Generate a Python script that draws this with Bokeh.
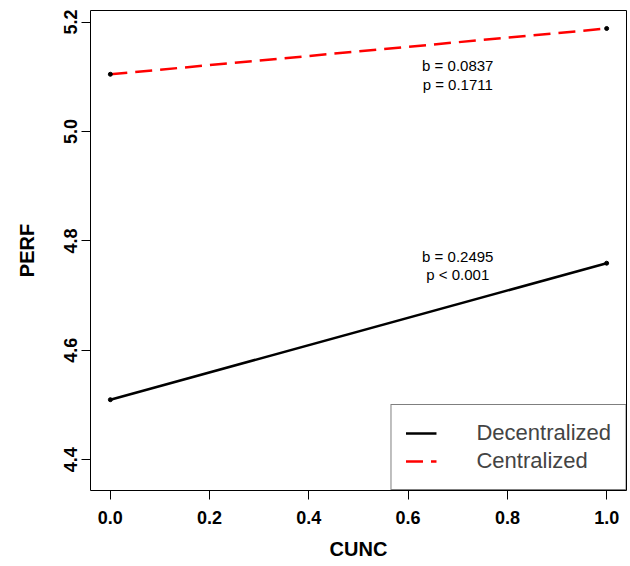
from bokeh.plotting import figure
from bokeh.models import Range1d, FixedTicker, Legend, LegendItem, ColumnDataSource
from bokeh.core.properties import value
from bokeh.embed import file_html
from bokeh.resources import INLINE

# ---- data ----
cunc = [0.0, 1.0]
decentralized = [4.5097, 4.7592]
centralized = [5.1046, 5.1883]

x_ticks = [0.0, 0.2, 0.4, 0.6, 0.8, 1.0]
x_tick_labels = ["0.0", "0.2", "0.4", "0.6", "0.8", "1.0"]
y_ticks = [4.4, 4.6, 4.8, 5.0, 5.2]
y_tick_labels = ["4.4", "4.6", "4.8", "5.0", "5.2"]

ann_x = [0.70, 0.70, 0.70, 0.70]
ann_y = [5.121, 5.086, 4.772, 4.738]
ann_text = ["b = 0.0837", "p = 0.1711", "b = 0.2495", "p < 0.001"]

FONT = "Liberation Sans"

p = figure(width=630, height=566, output_backend="svg", toolbar_location=None,
           x_range=Range1d(-0.04, 1.04), y_range=Range1d(4.3437, 5.2212),
           min_border_left=90, min_border_right=4, min_border_top=10, min_border_bottom=76)
p.background_fill_color = "white"
p.border_fill_color = "white"
p.outline_line_color = "black"
p.outline_line_width = 1
p.outline_line_alpha = 1.0
p.grid.visible = False

# lines
r_dec = p.line(cunc, decentralized, line_color="black", line_width=2.5)
r_cen = p.line(cunc, centralized, line_color="red", line_width=2.5, line_dash="17 8")
p.scatter(cunc, decentralized, size=4, color="black")
p.scatter(cunc, centralized, size=4, color="black")

# annotations
src = ColumnDataSource(dict(x=ann_x, y=ann_y, t=ann_text))
p.text(x="x", y="y", text="t", source=src, text_align="center", text_baseline="middle",
       text_font=value(FONT), text_font_size="15px", text_color="black")

# axes
for ax in (p.xaxis[0], p.yaxis[0]):
    ax.axis_line_color = None
    ax.major_tick_out = 9
    ax.major_tick_in = 0
    ax.major_tick_line_color = "black"
    ax.major_tick_line_width = 1
    ax.minor_tick_line_color = None
    ax.major_label_text_font = FONT
    ax.major_label_text_font_size = "18px"
    ax.major_label_text_font_style = "bold"
    ax.major_label_text_color = "black"
    ax.axis_label_text_font = FONT
    ax.axis_label_text_font_size = "20px"
    ax.axis_label_text_font_style = "bold"
    ax.axis_label_text_color = "black"

p.xaxis[0].ticker = FixedTicker(ticks=x_ticks)
p.xaxis[0].major_label_overrides = {t: l for t, l in zip(x_ticks, x_tick_labels)}
p.xaxis[0].axis_label = "CUNC"
p.xaxis[0].major_label_standoff = 11
p.xaxis[0].axis_label_standoff = 11

p.yaxis[0].ticker = FixedTicker(ticks=y_ticks)
p.yaxis[0].major_label_overrides = {t: l for t, l in zip(y_ticks, y_tick_labels)}
p.yaxis[0].axis_label = "PERF"
p.yaxis[0].major_label_orientation = "vertical"
p.yaxis[0].major_label_standoff = 4
p.yaxis[0].axis_label_standoff = 24

legend = Legend(items=[LegendItem(label="Decentralized", renderers=[r_dec]),
                       LegendItem(label="Centralized", renderers=[r_cen])],
                location="bottom_right", margin=0, padding=14, spacing=0,
                glyph_width=31, glyph_height=28, label_height=28, label_standoff=40,
                label_text_font=FONT, label_text_font_size="22px",
                border_line_color="black", border_line_width=1,
                background_fill_color="white", background_fill_alpha=1.0)
p.add_layout(legend)

open("out.html", "w").write(file_html(p, INLINE))
